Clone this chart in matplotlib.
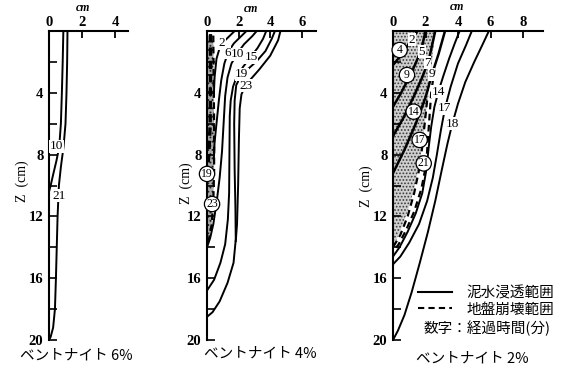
import matplotlib
matplotlib.use("Agg")
import matplotlib.pyplot as plt
from matplotlib.lines import Line2D

# ---------------- data ----------------
DEPTH_TICKS = [2, 4, 6, 8, 10, 12, 14, 16, 18, 20]
DEPTH_TICK_LABELS = ["", "4", "", "8", "", "12", "", "16", "", "20"]
PANEL_TITLES = ["ベントナイト 6%", "ベントナイト 4%", "ベントナイト 2%"]
PANEL_XMAX = [4.8, 6.9, 9.2]
PANEL_XTICKS = [[0, 2, 4], [0, 2, 4, 6], [0, 2, 4, 6, 8]]

# --- bentonite 6 % (solid = penetration) ---
P1_C10_X = [0.87, 0.83, 0.78, 0.72, 0.62, 0.45, 0.25, 0.10, 0.0]
P1_C10_Z = [0.0, 2.0, 4.0, 6.0, 7.5, 8.4, 9.3, 10.0, 10.4]
P1_C21_X = [1.12, 1.10, 1.06, 1.00, 0.88, 0.72, 0.60, 0.52, 0.47, 0.42, 0.36, 0.25, 0.10, 0.0]
P1_C21_Z = [0.0, 2.0, 4.0, 6.0, 7.5, 8.8, 10.0, 12.0, 14.0, 16.0, 18.0, 19.2, 19.8, 20.0]

# --- bentonite 4 % ---
P2_C2_X = [1.75, 1.40, 1.10, 0.80, 0.60, 0.48, 0.43]
P2_C2_Z = [0.0, 0.35, 0.65, 1.10, 1.80, 3.00, 4.20]
P2_C6_X = [2.50, 2.20, 1.70, 1.35, 1.10, 0.90, 0.75, 0.60, 0.48, 0.44]
P2_C6_Z = [0.0, 0.30, 0.80, 1.35, 2.10, 3.20, 4.50, 6.00, 7.20, 8.20]
P2_C10_X = [3.15, 2.85, 2.35, 1.95, 1.55, 1.30, 1.15, 1.05, 0.95, 0.80, 0.62, 0.40, 0.20, 0.0]
P2_C10_Z = [0.0, 0.35, 0.85, 1.40, 2.10, 3.00, 4.20, 6.00, 7.80, 9.50, 11.0, 12.5, 13.4, 14.0]
P2_C15_X = [3.75, 3.55, 3.20, 2.75, 2.30, 1.90, 1.65, 1.50, 1.44, 1.42, 1.40, 1.32, 1.15, 0.85, 0.45, 0.0]
P2_C15_Z = [0.0, 0.50, 1.10, 1.70, 2.30, 2.90, 3.60, 4.50, 5.50, 8.00, 10.5, 12.2, 13.8, 15.0, 16.1, 16.8]
P2_C19_X = [4.30, 4.10, 3.70, 3.10, 2.55, 2.15, 1.85, 1.75, 1.72, 1.75, 1.80, 1.82, 1.68, 1.30, 0.80, 0.35, 0.0]
P2_C19_Z = [0.0, 0.50, 1.30, 2.00, 2.50, 2.90, 3.50, 4.50, 6.00, 9.00, 11.5, 13.5, 15.0, 16.3, 17.5, 18.2, 18.5]
P2_C23_X = [4.65, 4.50, 4.00, 3.30, 2.70, 2.43, 2.18, 2.07, 2.02, 1.97, 1.90, 1.82]
P2_C23_Z = [0.0, 0.60, 1.60, 2.50, 3.20, 3.55, 4.10, 5.00, 7.00, 10.0, 12.5, 13.6]
# collapse (dashed)
P2_D19_X = [0.22, 0.22, 0.20, 0.12, 0.0]
P2_D19_Z = [0.2, 3.0, 6.0, 8.0, 9.3]
P2_D23_X = [0.40, 0.42, 0.45, 0.45, 0.40, 0.30, 0.12, 0.0]
P2_D23_Z = [0.3, 3.0, 6.0, 9.0, 11.0, 12.5, 13.5, 14.0]

# --- bentonite 2 % ---
P3_C2_X = [1.50, 1.20, 0.80, 0.40, 0.0]
P3_C2_Z = [0.0, 0.50, 1.10, 1.70, 2.20]
P3_C5_X = [2.00, 1.75, 1.35, 0.90, 0.45, 0.0]
P3_C5_Z = [0.0, 1.20, 2.20, 3.20, 4.10, 4.90]
P3_C7_X = [2.60, 2.20, 1.80, 1.25, 0.60, 0.0]
P3_C7_Z = [0.0, 1.90, 3.00, 4.30, 5.70, 6.80]
P3_C9_X = [3.20, 2.80, 2.40, 2.00, 1.40, 0.70, 0.0]
P3_C9_Z = [0.0, 1.50, 2.80, 4.30, 6.00, 7.70, 9.20]
P3_C14_X = [4.10, 3.80, 3.45, 3.10, 2.80, 2.55, 2.35, 2.20, 2.05, 1.80, 1.40, 0.90, 0.40, 0.0]
P3_C14_Z = [0.0, 0.80, 1.80, 2.90, 3.90, 4.90, 6.20, 7.50, 9.00, 10.5, 11.8, 13.0, 14.0, 14.6]
P3_C17_X = [4.85, 4.50, 4.00, 3.55, 3.20, 2.95, 2.70, 2.45, 2.10, 1.60, 1.00, 0.45, 0.0]
P3_C17_Z = [0.0, 0.90, 2.10, 3.60, 5.00, 6.40, 8.00, 9.50, 11.0, 12.5, 13.7, 14.6, 15.1]
P3_C18_X = [5.90, 5.50, 5.00, 4.45, 4.00, 3.65, 3.35, 3.00, 2.60, 2.15, 1.65, 1.15, 0.70, 0.30, 0.0]
P3_C18_Z = [0.0, 0.90, 2.00, 3.30, 4.70, 6.00, 7.30, 9.00, 11.0, 13.0, 15.0, 16.9, 18.4, 19.4, 20.0]
# collapse (dashed)
P3_DA_X = [2.55, 2.35, 2.25, 2.15, 2.05, 1.75, 1.30, 0.80, 0.35, 0.0]
P3_DA_Z = [2.5, 4.0, 5.5, 7.0, 8.6, 10.2, 11.7, 12.9, 13.8, 14.3]
P3_DB_X = [2.10, 1.95, 1.80, 1.60, 1.30, 0.90, 0.45, 0.0]
P3_DB_Z = [4.5, 6.0, 7.5, 9.0, 10.5, 12.0, 13.2, 14.0]
P3_STIPPLE_X = [2.60, 2.40, 2.20, 2.00, 1.85, 1.65, 1.35, 0.95, 0.50, 0.0]
P3_STIPPLE_Z = [0.0, 2.0, 4.0, 5.5, 7.0, 8.5, 10.0, 11.5, 12.8, 14.0]

# curve labels (text, x, z)
P1_LABELS = [("10", 0.45, 7.45), ("21", 0.62, 10.65)]
P2_LABELS = [("2", 0.95, 0.80), ("6", 1.30, 1.40), ("10", 1.95, 1.50),
             ("15", 2.80, 1.70), ("19", 2.20, 2.80), ("23", 2.47, 3.55)]
P2_CIRCLED = [("19", 0.0, 9.25), ("23", 0.32, 11.2)]
P3_LABELS = [("2", 1.17, 0.58), ("5", 1.78, 1.34), ("7", 2.13, 2.05), ("9", 2.38, 2.80),
             ("14", 2.81, 3.93), ("17", 3.18, 5.0), ("18", 3.65, 6.0)]
P3_CIRCLED = [("4", 0.41, 1.23), ("9", 0.86, 2.85), ("14", 1.27, 5.22),
              ("17", 1.64, 7.05), ("21", 1.89, 8.57)]

LEGEND_LABELS = ["泥水浸透範囲", "地盤崩壊範囲"]
LEGEND_NOTE = "数字：経過時間(分)"

# ---------------- drawing ----------------
SERIF = "Liberation Serif"
JP = ["Noto Sans CJK JP", "DejaVu Sans"]
plt.rcParams["hatch.linewidth"] = 0.8

W, H = 574, 368
fig = plt.figure(figsize=(W / 100, H / 100), dpi=100)

ax_px = [(49, 16.5), (207, 15.8), (393, 16.25)]
top_px, bot_px = 31, 340
axes = []
for i, (left, scale) in enumerate(ax_px):
    width = PANEL_XMAX[i] * scale
    ax = fig.add_axes([left / W, 1 - bot_px / H, width / W, (bot_px - top_px) / H])
    ax.set_xlim(0, PANEL_XMAX[i])
    ax.set_ylim(20, 0)
    for s in ("right", "bottom"):
        ax.spines[s].set_visible(False)
    for s in ("top", "left"):
        ax.spines[s].set_linewidth(1.5)
    ax.xaxis.set_ticks_position("top")
    ax.set_xticks(PANEL_XTICKS[i])
    ax.set_xticklabels([str(t) for t in PANEL_XTICKS[i]], fontfamily=SERIF,
                       fontsize=10.5, fontweight="bold")
    ax.tick_params(axis="x", direction="in", length=5, width=1.3, pad=1.5)
    ax.set_yticks(DEPTH_TICKS)
    ax.set_yticklabels(DEPTH_TICK_LABELS, fontfamily=SERIF, fontsize=10.5, fontweight="bold")
    ax.tick_params(axis="y", direction="in", length=6, width=1.2, pad=4)
    ax.set_facecolor("none")
    axes.append(ax)

ax1, ax2, ax3 = axes
LW = 1.4

# stipple
ax2.fill_betweenx(P2_D23_Z, 0, P2_D23_X, facecolor="#a8a8a8", edgecolor="#222222",
                  hatch="....", linewidth=0)
ax3.fill_betweenx(P3_STIPPLE_Z, 0, P3_STIPPLE_X, facecolor="#cfcfcf", edgecolor="#3a3a3a",
                  hatch=".....", linewidth=0)

# panel 1
ax1.plot(P1_C10_X, P1_C10_Z, color="black", lw=LW)
ax1.plot(P1_C21_X, P1_C21_Z, color="black", lw=LW)

# panel 2
for xs, zs in [(P2_C2_X, P2_C2_Z), (P2_C6_X, P2_C6_Z), (P2_C10_X, P2_C10_Z),
               (P2_C15_X, P2_C15_Z), (P2_C19_X, P2_C19_Z), (P2_C23_X, P2_C23_Z)]:
    ax2.plot(xs, zs, color="black", lw=LW)
ax2.plot(P2_D19_X, P2_D19_Z, color="black", lw=2.4, ls=(0, (2.5, 1.5)))
ax2.plot(P2_D23_X, P2_D23_Z, color="black", lw=1.6, ls=(0, (3, 2)))

# panel 3
for xs, zs in [(P3_C2_X, P3_C2_Z), (P3_C5_X, P3_C5_Z), (P3_C7_X, P3_C7_Z), (P3_C9_X, P3_C9_Z)]:
    ax3.plot(xs, zs, color="black", lw=1.8)
for xs, zs in [(P3_C14_X, P3_C14_Z), (P3_C17_X, P3_C17_Z), (P3_C18_X, P3_C18_Z)]:
    ax3.plot(xs, zs, color="black", lw=LW)
ax3.plot(P3_DA_X, P3_DA_Z, color="black", lw=1.6, ls=(0, (3, 2)))
ax3.plot(P3_DB_X, P3_DB_Z, color="black", lw=1.6, ls=(0, (3, 2)))

# labels
def inline(ax, items):
    for t, x, z in items:
        ax.text(x, z, t, fontfamily=SERIF, fontsize=9.5, ha="center", va="center",
                bbox=dict(boxstyle="square,pad=0.04", fc="white", ec="none"), zorder=5)

def circled(ax, items):
    for t, x, z in items:
        ax.text(x, z, t, fontfamily=SERIF, fontsize=8.5, ha="center", va="center",
                bbox=dict(boxstyle="circle,pad=0.14", fc="white", ec="black", lw=0.9), zorder=6)

inline(ax1, P1_LABELS)
inline(ax2, P2_LABELS)
circled(ax2, P2_CIRCLED)
inline(ax3, P3_LABELS)
circled(ax3, P3_CIRCLED)

# axis unit labels
for (x, y) in [(83, 8), (251, 9), (457, 7)]:
    fig.text(x / W, 1 - y / H, "cm", fontfamily=SERIF, fontsize=8.5, fontstyle="italic",
             fontweight="bold", ha="center", va="center")
for (x, y) in [(22, 181), (186, 183), (366, 186)]:
    fig.text(x / W, 1 - y / H, "Z  (cm)", fontfamily=SERIF, fontsize=10, rotation=90,
             ha="center", va="center")

# panel titles
for t, (x, y) in zip(PANEL_TITLES, [(76, 356), (260, 354), (472, 359)]):
    fig.text(x / W, 1 - y / H, t, fontfamily=JP, fontsize=10.5, ha="center", va="center")

# legend
handles = [Line2D([], [], color="black", lw=1.5),
           Line2D([], [], color="black", lw=1.5, ls=(0, (3, 2)))]
leg = ax3.legend(handles, LEGEND_LABELS, loc="upper left",
                 bbox_to_anchor=(418 / W, 1 - 286 / H), bbox_transform=fig.transFigure,
                 frameon=False, borderpad=0, borderaxespad=0, handlelength=2.3,
                 handletextpad=1.0, labelspacing=0.15, prop={"family": JP, "size": 10.5})
fig.text(423 / W, 1 - 328 / H, LEGEND_NOTE, fontfamily=JP, fontsize=10.5, ha="left", va="center")

fig.savefig("out.png", dpi=100)
